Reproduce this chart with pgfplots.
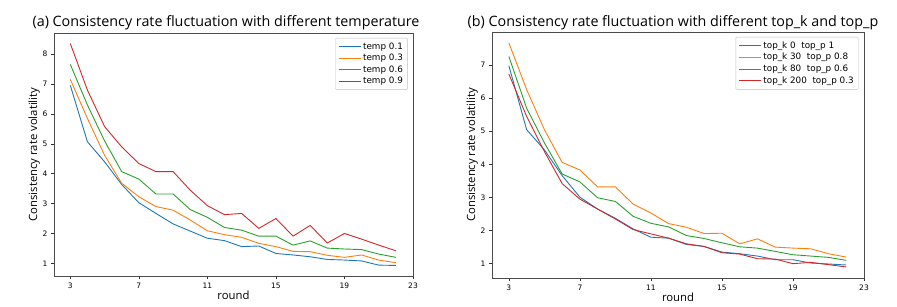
\documentclass[border=0pt]{standalone}
\usepackage{pgfplots}
\pgfplotsset{compat=1.18}
\usepackage{fontspec}
\setmainfont{DejaVu Sans}
\newfontfamily\titlefont{Open Sans}
\definecolor{tabblue}{HTML}{1F77B4}
\definecolor{taborange}{HTML}{FF7F0E}
\definecolor{tabgreen}{HTML}{2CA02C}
\definecolor{tabred}{HTML}{D62728}
\pgfplotsset{
  myaxis/.style={
    scale only axis,
    anchor=south west,
    xmin=2.05, xmax=23,
    xtick={3,7,11,15,19,23},
    axis line style={draw=black!70, line width=0.6pt},
    tick align=outside,
    major tick length=3pt,
    tick style={black!80, line width=0.5pt},
    xtick pos=bottom, ytick pos=left,
    /pgf/number format/assume math mode=true,
    tick label style={font=\fontsize{7.5}{8}\selectfont},
    xlabel={\titlefont\fontsize{11.3}{13}\selectfont round},
    ylabel={\titlefont\fontsize{11.3}{13}\selectfont Consistency rate volatility},
    xlabel style={yshift=4pt},
    ylabel style={yshift=-4pt},
    legend cell align=left,
    legend style={font=\fontsize{8.8}{10}\selectfont, draw=black!25, rounded corners=1pt,
      at={(0.985,0.98)}, anchor=north east, inner sep=2.5pt, row sep=-0.5pt},
    legend image code/.code={\draw[##1, line width=1.1pt] (0pt,0pt) -- (22pt,0pt);},
    every axis plot/.append style={line width=0.9pt},
  }
}
\begin{document}
\begin{tikzpicture}
\useasboundingbox (0pt,0pt) rectangle (897pt,306pt);
\node[anchor=base] at (226pt,279pt) {\titlefont\fontsize{14.3}{16}\selectfont (a) Consistency rate fluctuation with different temperature};
\node[anchor=base] at (673pt,279pt) {\titlefont\fontsize{14.3}{16}\selectfont (b) Consistency rate fluctuation with different top\_k and top\_p};
\begin{axis}[myaxis, at={(54pt,30pt)}, width=359pt, height=243pt,
  ymin=0.576, ymax=8.71, ytick={1,2,3,4,5,6,7,8}]
\addplot[tabblue] coordinates {(3,6.96)(4,5.07)(5,4.4)(6,3.64)(7,3.03)(8,2.67)(9,2.32)(10,2.08)(11,1.84)(12,1.76)(13,1.56)(14,1.58)(15,1.33)(16,1.28)(17,1.22)(18,1.13)(19,1.11)(20,1.08)(21,0.94)(22,0.93)};
\addlegendentry{temp 0.1}
\addplot[taborange] coordinates {(3,7.16)(4,5.85)(5,4.62)(6,3.68)(7,3.23)(8,2.9)(9,2.78)(10,2.45)(11,2.09)(12,1.96)(13,1.87)(14,1.67)(15,1.56)(16,1.40)(17,1.39)(18,1.27)(19,1.2)(20,1.28)(21,1.11)(22,1.02)};
\addlegendentry{temp 0.3}
\addplot[tabgreen] coordinates {(3,7.66)(4,6.3)(5,5.1)(6,4.07)(7,3.82)(8,3.32)(9,3.32)(10,2.8)(11,2.54)(12,2.2)(13,2.11)(14,1.91)(15,1.91)(16,1.61)(17,1.75)(18,1.51)(19,1.48)(20,1.46)(21,1.31)(22,1.2)};
\addlegendentry{temp 0.6}
\addplot[tabred] coordinates {(3,8.36)(4,6.8)(5,5.58)(6,4.9)(7,4.34)(8,4.07)(9,4.07)(10,3.45)(11,2.93)(12,2.63)(13,2.67)(14,2.17)(15,2.5)(16,1.91)(17,2.27)(18,1.68)(19,2.0)(20,1.81)(21,1.61)(22,1.42)};
\addlegendentry{temp 0.9}
\end{axis}
\begin{axis}[myaxis, at={(492pt,28pt)}, width=372pt, height=246pt,
  ymin=0.567, ymax=8.0, ytick={1,2,3,4,5,6,7}]
\addplot[tabblue] coordinates {(3,6.98)(4,5.05)(5,4.44)(6,3.66)(7,3.01)(8,2.65)(9,2.37)(10,2.05)(11,1.8)(12,1.77)(13,1.58)(14,1.52)(15,1.35)(16,1.3)(17,1.23)(18,1.12)(19,1.12)(20,1.02)(21,0.99)(22,0.96)};
\addlegendentry{top\_k 0\ \ top\_p 1}
\addplot[taborange] coordinates {(3,7.67)(4,6.26)(5,5.05)(6,4.06)(7,3.83)(8,3.32)(9,3.32)(10,2.8)(11,2.53)(12,2.21)(13,2.1)(14,1.91)(15,1.92)(16,1.6)(17,1.75)(18,1.5)(19,1.47)(20,1.45)(21,1.3)(22,1.2)};
\addlegendentry{top\_k 30\ \ top\_p 0.8}
\addplot[tabgreen] coordinates {(3,7.26)(4,5.7)(5,4.65)(6,3.71)(7,3.47)(8,2.99)(9,2.88)(10,2.43)(11,2.22)(12,2.11)(13,1.85)(14,1.76)(15,1.63)(16,1.51)(17,1.47)(18,1.37)(19,1.27)(20,1.23)(21,1.19)(22,1.1)};
\addlegendentry{top\_k 80\ \ top\_p 0.6}
\addplot[tabred] coordinates {(3,6.73)(4,5.45)(5,4.39)(6,3.42)(7,2.95)(8,2.65)(9,2.35)(10,2.03)(11,1.9)(12,1.77)(13,1.6)(14,1.52)(15,1.33)(16,1.29)(17,1.15)(18,1.14)(19,1.0)(20,1.04)(21,0.97)(22,0.9)};
\addlegendentry{top\_k 200\ \ top\_p 0.3}
\end{axis}
\end{tikzpicture}
\end{document}
